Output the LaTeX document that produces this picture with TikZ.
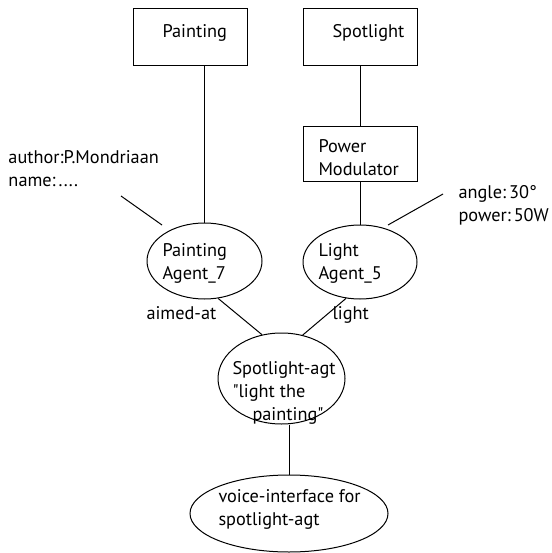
\documentclass[tikz,border=0pt]{standalone}
\usepackage{fontspec}
\setmainfont{PT Sans}[Ligatures=TeXOff]
\usetikzlibrary{shapes.geometric}
\newcommand{\cs}{\hspace{3pt}}
\begin{document}
\begin{tikzpicture}[x=1pt,y=-1pt,
  line width=1pt,
  thing/.style={draw, rectangle, minimum width=114pt, minimum height=57pt, inner sep=0pt},
  agent/.style={draw, ellipse, inner sep=0pt},
  txt/.style={anchor=base west, inner sep=0pt, align=left, font=\fontsize{18.3}{23}\selectfont}]
\useasboundingbox (0,0) rectangle (551,553);
% boxes
\node[thing] (pbox) at (190,37.5) {};
\node[thing] (sbox) at (360,37.5) {};
\node[thing, minimum height=55pt] (pm) at (360,154.5) {};
% ellipses
\node[agent, minimum width=115pt, minimum height=76pt] (pell) at (204.5,261) {};
\node[agent, minimum width=114pt, minimum height=74pt] (lell) at (360,262) {};
\node[agent, minimum width=127pt, minimum height=91pt] (sell) at (281.5,378.5) {};
\node[agent, minimum width=198pt, minimum height=77pt] (vell) at (289,513.5) {};
% texts (anchor at the baseline of the last line)
\node[txt] (tpaint) at (162,38) {Painting};
\node[txt] (tspot) at (332,38) {Spotlight};
\node[txt] (tpm) at (318,175.5) {Power\\Modulator};
\node[txt] (tauthor) at (8,187) {author:P.Mondriaan\\name:\cs....};
\node[txt] (tangle) at (458,221) {angle:\cs30°\\power:\cs50W};
\node[txt] (tpell) at (162,279) {Painting\\Agent\_7};
\node[txt] (tlell) at (318,279) {Light\\Agent\_5};
\node[txt] (taimed) at (146,319) {aimed-at};
\node[txt] (tlight) at (332,319) {light};
\node[txt] (tsell) at (232,420) {Spotlight-agt\\"light the\\\hspace*{20pt}painting"};
\node[txt] (tvell) at (218,525) {voice-interface for\\spotlight-agt};
% connectors
\draw (pell.north |- pbox.south) -- (pell.north);
\draw (sbox.south) -- (pm.north);
\draw (pm.south) -- (lell.north);
\coordinate (a1) at (121,196);
\coordinate (a2) at (162,225);
\draw (a1) -- (a2);
\coordinate (b1) at (443,194);
\coordinate (b2) at (388,225);
\draw (b1) -- (b2);
\draw (pell.-70) -- (sell.114);
\draw (lell.-111) -- (sell.64);
\draw (vell.north |- sell.south) -- (vell.north);
\end{tikzpicture}
\end{document}
